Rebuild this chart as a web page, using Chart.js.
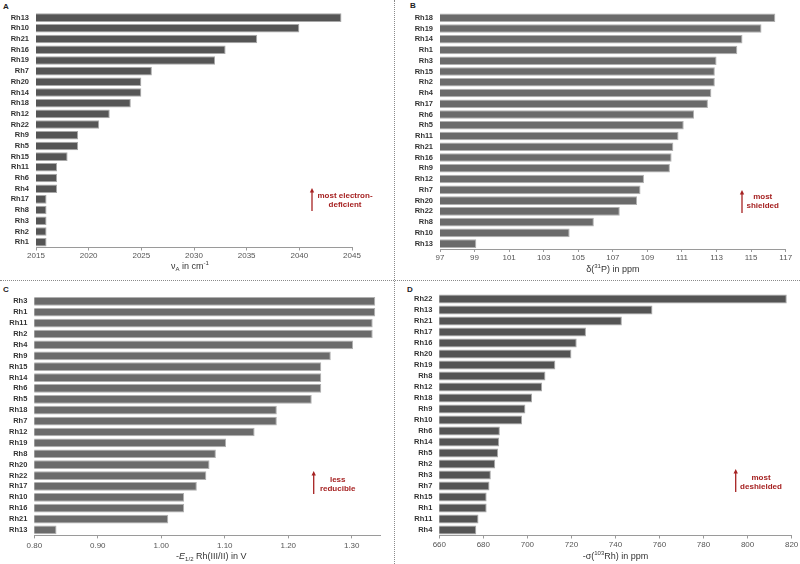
<!DOCTYPE html>
<html><head><meta charset="utf-8">
<script src="https://cdn.jsdelivr.net/npm/chart.js@4/dist/chart.umd.min.js"></script>
<style>
html,body{margin:0;padding:0;background:#fff;}
#wrap{position:relative;width:800px;height:564px;overflow:hidden;font-family:'Liberation Sans',Arial,sans-serif;background:#fff;}
canvas.c{position:absolute;left:0;top:0;}
.vline{position:absolute;left:394px;top:0;width:0;height:564px;border-left:1px dotted #8a8a8a;}
.hline{position:absolute;left:0;top:280px;width:800px;height:0;border-top:1px dotted #8a8a8a;}
.plbl{position:absolute;font:bold 8px 'Liberation Sans',Arial,sans-serif;line-height:10px;color:#222;}
</style></head>
<body><div id="wrap">
<div class="vline"></div><div class="hline"></div>
<div class="plbl" style="left:3px;top:2px">A</div>
<div class="plbl" style="left:410px;top:1px">B</div>
<div class="plbl" style="left:3px;top:285px">C</div>
<div class="plbl" style="left:407px;top:285px">D</div>
<canvas id="cA" class="c" width="800" height="564"></canvas>
<canvas id="cB" class="c" width="800" height="564"></canvas>
<canvas id="cC" class="c" width="800" height="564"></canvas>
<canvas id="cD" class="c" width="800" height="564"></canvas>
</div>
<script>
// ---- Data ----
const catsA = ['Rh13','Rh10','Rh21','Rh16','Rh19','Rh7','Rh20','Rh14','Rh18','Rh12','Rh22','Rh9','Rh5','Rh15','Rh11','Rh6','Rh4','Rh17','Rh8','Rh3','Rh2','Rh1'];
const valsA = [2044,2040,2036,2033,2032,2026,2025,2025,2024,2022,2021,2019,2019,2018,2017,2017,2017,2016,2016,2016,2016,2016];
const ticksA = [2015,2020,2025,2030,2035,2040,2045];

const catsB = ['Rh18','Rh19','Rh14','Rh1','Rh3','Rh15','Rh2','Rh4','Rh17','Rh6','Rh5','Rh11','Rh21','Rh16','Rh9','Rh12','Rh7','Rh20','Rh22','Rh8','Rh10','Rh13'];
const valsB = [116.4,115.6,114.5,114.2,113.0,112.9,112.9,112.7,112.5,111.7,111.1,110.8,110.5,110.4,110.3,108.8,108.6,108.4,107.4,105.9,104.5,99.1];
const ticksB = [97,99,101,103,105,107,109,111,113,115,117];

const catsC = ['Rh3','Rh1','Rh11','Rh2','Rh4','Rh9','Rh15','Rh14','Rh6','Rh5','Rh18','Rh7','Rh12','Rh19','Rh8','Rh20','Rh22','Rh17','Rh10','Rh16','Rh21','Rh13'];
const valsC = [1.337,1.337,1.333,1.333,1.302,1.267,1.252,1.252,1.252,1.237,1.182,1.182,1.147,1.102,1.086,1.076,1.071,1.056,1.036,1.036,1.011,0.835];
const ticksC = [0.80,0.90,1.00,1.10,1.20,1.30];

const catsD = ['Rh22','Rh13','Rh21','Rh17','Rh16','Rh20','Rh19','Rh8','Rh12','Rh18','Rh9','Rh10','Rh6','Rh14','Rh5','Rh2','Rh3','Rh7','Rh15','Rh1','Rh11','Rh4'];
const valsD = [817.8,756.8,742.9,726.6,722.4,720.0,712.7,708.2,706.7,702.1,699.1,697.6,687.5,687.2,686.7,685.4,683.4,682.8,681.5,681.5,677.8,676.8];
const ticksD = [660,680,700,720,740,760,780,800,820];

// ---- Helpers ----
const FAM = "'Liberation Sans', Arial, sans-serif";
const RED = '#a62222';
function fontStr(s){ return (s.style||'normal')+' '+(s.weight||'normal')+' '+s.size+'px '+FAM; }
function drawRich(ctx, segs, cx, cy, color){
  let total = 0;
  segs.forEach(s=>{ ctx.font = fontStr(s); s.w = ctx.measureText(s.t).width; total += s.w; });
  let x = cx - total/2;
  ctx.fillStyle = color; ctx.textBaseline = 'middle'; ctx.textAlign = 'left';
  segs.forEach(s=>{ ctx.font = fontStr(s); ctx.fillText(s.t, x, cy + (s.dy||0)); x += s.w; });
}

function makePanel(id, cats, vals, ticks, o){
  const XH = 30;
  const YW = Math.floor(o.L);
  const deco = {
    id: 'deco_'+id,
    afterDraw(chart){
      const ctx = chart.ctx, ca = chart.chartArea, xs = chart.scales.x;
      ctx.save();
      drawRich(ctx, o.title, (ca.left+ca.right)/2 + (o.titleDx||0), xs.top + o.titleDy, '#333');
      const a = o.arrow;
      ctx.strokeStyle = RED; ctx.fillStyle = RED; ctx.lineWidth = 1.3;
      ctx.beginPath(); ctx.moveTo(a.x, a.y2); ctx.lineTo(a.x, a.y1+3); ctx.stroke();
      ctx.beginPath(); ctx.moveTo(a.x, a.y1); ctx.lineTo(a.x-2.2, a.y1+4.5); ctx.lineTo(a.x+2.2, a.y1+4.5); ctx.closePath(); ctx.fill();
      ctx.font = 'bold 8px '+FAM; ctx.textAlign='center'; ctx.textBaseline='middle';
      o.note.lines.forEach((t,i)=>ctx.fillText(t, o.note.x, o.note.y + i*8.6));
      ctx.restore();
    }
  };
  return new Chart(document.getElementById(id), {
    type: 'bar',
    data: { labels: cats, datasets: [{ data: vals, backgroundColor: o.color, borderColor: o.border, borderWidth: 1, borderSkipped: false, barPercentage: 0.8, categoryPercentage: 1.0 }] },
    options: {
      indexAxis: 'y', responsive: false, animation: false, devicePixelRatio: 1,
      layout: { padding: { left: o.L - YW, top: o.T, right: 800 - o.R, bottom: 564 - o.B - XH } },
      plugins: { legend: { display: false }, tooltip: { enabled: false } },
      scales: {
        x: {
          type: 'linear', min: o.min, max: o.max,
          afterBuildTicks: s => { s.ticks = ticks.map(v => ({ value: v })); },
          afterFit: s => { s.height = XH; },
          grid: { display: true, drawOnChartArea: false, drawTicks: true, tickLength: 3, color: '#9a9a9a', tickColor: '#9a9a9a' },
          border: { display: true, color: '#9a9a9a', width: 1 },
          ticks: { font: { family: FAM, size: 8 }, color: '#555', padding: o.tp, maxRotation: 0, autoSkip: false, callback: v => o.fmt(v) }
        },
        y: {
          type: 'category',
          afterFit: s => { s.width = YW; },
          grid: { display: false, drawTicks: false, tickLength: 0 },
          border: { display: false },
          ticks: { font: { family: FAM, size: 7.5, weight: 'bold' }, color: '#333', padding: 7, autoSkip: false }
        }
      }
    },
    plugins: [deco]
  });
}

makePanel('cA', catsA, valsA, ticksA, {
  L: 36, R: 352, T: 12.3, B: 247.5, min: 2015, max: 2045, tp: 0.7, fmt: v => String(v),
  color: '#555555', border: '#a8a8a8',
  title: [{t:'\u03BD',size:9},{t:'A',size:6,dy:2.5},{t:' in cm',size:9},{t:'-1',size:6,dy:-3}], titleDy: 19.2, titleDx: -4,
  arrow: { x: 312, y1: 188, y2: 211 }, note: { x: 345, y: 196, lines: ['most electron-','deficient'] }
});
makePanel('cB', catsB, valsB, ticksB, {
  L: 440, R: 785.7, T: 12.3, B: 249, min: 97, max: 117, tp: 0.9, fmt: v => String(v),
  color: '#6b6b6b', border: '#b0b0b0',
  title: [{t:'\u03B4(',size:9},{t:'31',size:6,dy:-3},{t:'P) in ppm',size:9}], titleDy: 20.3,
  arrow: { x: 742, y1: 190, y2: 213 }, note: { x: 762.7, y: 196.7, lines: ['most','shielded'] }
});
makePanel('cC', catsC, valsC, ticksC, {
  L: 34.3, R: 380.3, T: 295.9, B: 535.4, min: 0.8, max: 1.345, tp: 2.8, fmt: v => v.toFixed(2),
  color: '#6b6b6b', border: '#b0b0b0',
  title: [{t:'-',size:9},{t:'E',size:9,style:'italic'},{t:'1/2',size:6,dy:2.5},{t:' Rh(III/II) in V',size:9}], titleDy: 21.3, titleDx: 4,
  arrow: { x: 313.7, y1: 471, y2: 494 }, note: { x: 337.7, y: 480, lines: ['less','reducible'] }
});
makePanel('cD', catsD, valsD, ticksD, {
  L: 439.3, R: 792.7, T: 293.5, B: 535.5, min: 660, max: 820, tp: 1.7, fmt: v => String(v),
  color: '#545454', border: '#a8a8a8',
  title: [{t:'-\u03C3(',size:9},{t:'103',size:6,dy:-3},{t:'Rh) in ppm',size:9}], titleDy: 21.2,
  arrow: { x: 735.7, y1: 469, y2: 492 }, note: { x: 761, y: 477.7, lines: ['most','deshielded'] }
});
</script>
</body></html>
